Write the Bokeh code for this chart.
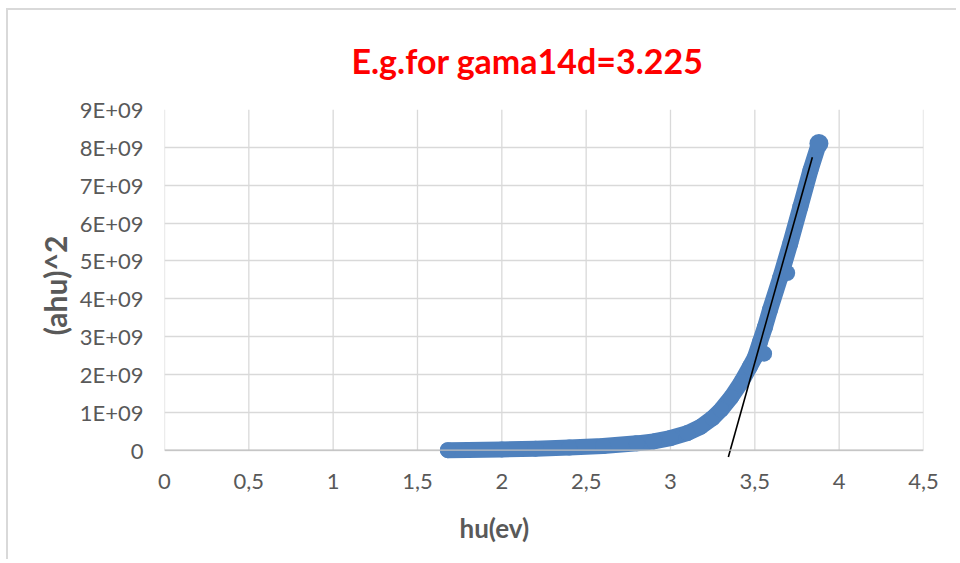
from bokeh.plotting import figure
from bokeh.models import FixedTicker, Range1d, Span, Title
from bokeh.embed import file_html
from bokeh.resources import INLINE

# ---- data ----
hu = [1.68, 1.80, 2.00, 2.20, 2.40, 2.60, 2.80, 2.90, 3.00, 3.10, 3.18, 3.25,
      3.30, 3.36, 3.42, 3.47, 3.50, 3.53, 3.56, 3.59, 3.65, 3.71, 3.77, 3.83,
      3.88]
ahu2 = [0.0, 0.005e9, 0.02e9, 0.04e9, 0.07e9, 0.11e9, 0.18e9, 0.23e9, 0.32e9,
        0.45e9, 0.62e9, 0.85e9, 1.07e9, 1.40e9, 1.80e9, 2.20e9, 2.45e9,
        2.85e9, 3.25e9, 3.71e9, 4.55e9, 5.46e9, 6.43e9, 7.40e9, 8.10e9]
extra_hu = [3.555, 3.692]
extra_ahu2 = [2.55e9, 4.68e9]
end_hu = [3.88]
end_ahu2 = [8.10e9]
tangent_hu = [3.343, 3.841]
tangent_ahu2 = [-0.18e9, 7.74e9]

x_ticks = [0, 0.5, 1, 1.5, 2, 2.5, 3, 3.5, 4, 4.5]
x_tick_labels = ["0", "0,5", "1", "1,5", "2", "2,5", "3", "3,5", "4", "4,5"]
y_ticks = [0, 1e9, 2e9, 3e9, 4e9, 5e9, 6e9, 7e9, 8e9, 9e9]
y_tick_labels = ["0", "1E+09", "2E+09", "3E+09", "4E+09", "5E+09", "6E+09",
                 "7E+09", "8E+09", "9E+09"]

title_text = "E.g.for gama14d=3.225"
x_title = "hu(ev)"
y_title = "(ahu)^2"

FONT = "Lato"
BLUE = "#4F81BD"
GRID = "#D9D9D9"
TXT = "#595959"

y_lo = -0.3e9   # a little room below zero so markers are not cut at the axis
y_hi = 9e9

p = figure(width=950, height=551, output_backend="svg", toolbar_location=None,
           x_range=Range1d(0, 4.5), y_range=Range1d(y_lo, y_hi),
           min_border_left=156, min_border_right=35,
           min_border_top=99, min_border_bottom=99)
p.styles = {"margin-left": "6px", "margin-top": "8px",
            "border-top": "2px solid #D9D9D9", "border-left": "2px solid #D9D9D9"}

p.outline_line_color = None
p.background_fill_color = "white"
p.border_fill_color = "white"

# title
p.title = Title(text=title_text, align="left", offset=187, vertical_align="top",
                text_color="#FF0000", text_font=FONT, text_font_size="34px",
                text_font_style="bold", standoff=54)

# axes
p.xaxis.ticker = FixedTicker(ticks=x_ticks)
p.xaxis.major_label_overrides = {k: v for k, v in zip(x_ticks, x_tick_labels)}
p.yaxis.ticker = FixedTicker(ticks=y_ticks)
p.yaxis.major_label_overrides = {k: v for k, v in zip(y_ticks, y_tick_labels)}

for ax in (p.xaxis[0], p.yaxis[0]):
    ax.major_tick_line_color = None
    ax.minor_tick_line_color = None
    ax.major_label_text_font = FONT
    ax.major_label_text_font_size = "22px"
    ax.major_label_text_color = TXT
    ax.axis_line_color = None
p.xaxis.major_label_standoff = 6
p.yaxis.major_label_standoff = 15

p.yaxis.axis_label = y_title
p.yaxis.axis_label_text_font = FONT
p.yaxis.axis_label_text_font_size = "30px"
p.yaxis.axis_label_text_font_style = "bold"
p.yaxis.axis_label_text_color = TXT
p.yaxis.axis_label_standoff = 4

p.add_layout(Title(text=x_title, align="left", offset=295, text_color=TXT,
                   text_font=FONT, text_font_size="26px", text_font_style="bold",
                   standoff=36), "below")

# gridlines: horizontal from the grid, vertical ones stop at zero
p.ygrid.grid_line_color = GRID
p.ygrid.grid_line_width = 1.3
p.xgrid.grid_line_color = None
p.segment(x0=x_ticks, y0=[0] * len(x_ticks), x1=x_ticks, y1=[y_hi] * len(x_ticks),
          line_color=GRID, line_width=1.3)
# horizontal axis line at zero
p.add_layout(Span(location=0, dimension="width", line_color="#BFBFBF", line_width=1.3))

# data
p.line(hu, ahu2, line_color=BLUE, line_width=16, line_cap="round", line_join="round")
p.scatter(hu, ahu2, size=16, fill_color=BLUE, line_color=None)
p.scatter(extra_hu, extra_ahu2, size=16, fill_color=BLUE, line_color=None)
p.scatter(end_hu, end_ahu2, size=19, fill_color=BLUE, line_color=None)
p.line(tangent_hu, tangent_ahu2, line_color="black", line_width=1.6)

open("out.html", "w").write(file_html(p, INLINE))
